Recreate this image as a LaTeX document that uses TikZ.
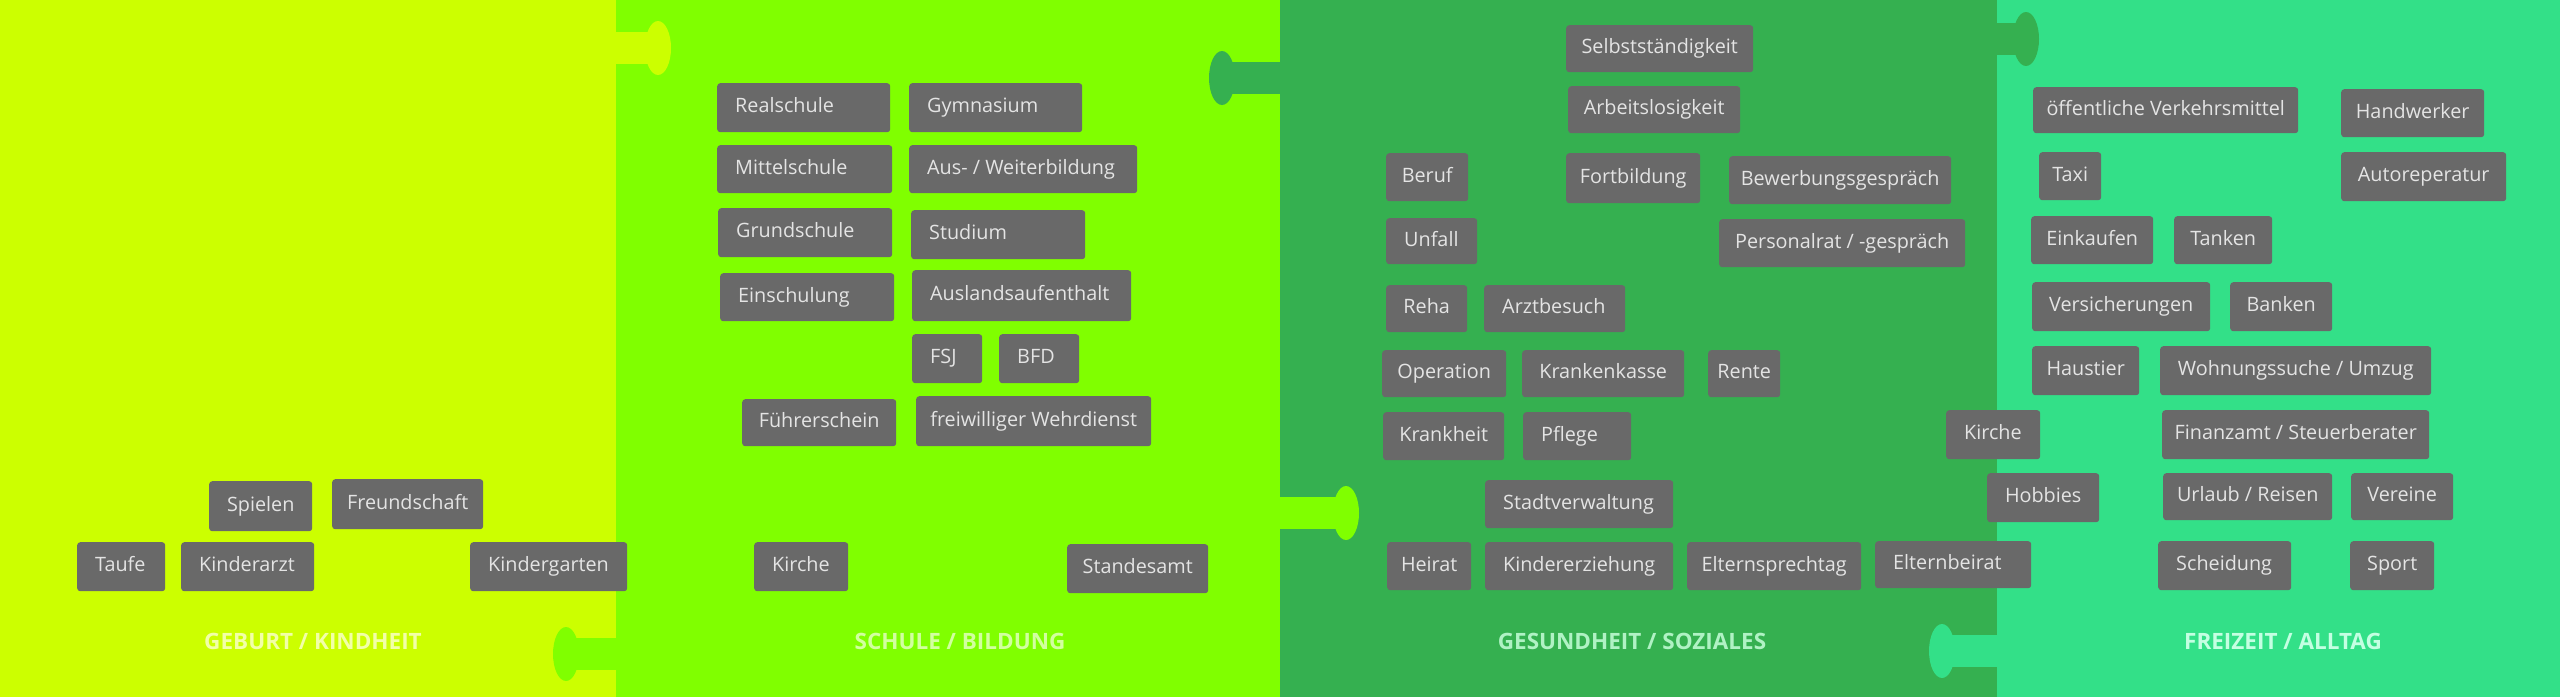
\documentclass[tikz,border=0pt]{standalone}
\usepackage{fontspec}
\setmainfont{Open Sans}
\definecolor{pA}{HTML}{CCFF00}
\definecolor{pB}{HTML}{80FF00}
\definecolor{pC}{HTML}{35B050}
\definecolor{pD}{HTML}{33E088}
\definecolor{boxfill}{HTML}{696969}
\definecolor{boxtext}{HTML}{E4E4E4}
\definecolor{tA}{HTML}{F2FFA8}
\definecolor{tB}{HTML}{D2FFA0}
\definecolor{tC}{HTML}{B0F2C4}
\definecolor{tD}{HTML}{C4FFE2}
\tikzset{
  tbox/.style={fill=boxfill, rounded corners=3pt, text=boxtext, inner xsep=18pt, inner ysep=0pt,
    font=\fontsize{19.8}{22}\selectfont, text height=14pt, text depth=4pt},
  ptitle/.style={font=\fontsize{22.5}{25}\selectfont\bfseries, inner sep=0pt},
}
\newcommand\bx[6]{%
  \node[tbox, minimum width={(#4-#2)*1pt}, minimum height={(#5-#3)*1pt}, anchor=north west] (#1) at (#2,#3)
    {\hbox to \dimexpr #4pt-#2pt-36pt\relax{\hskip 0pt minus 1fil #6\hskip 0pt plus 1fil minus 1fil}};}
\newcommand\knob[5]{% colour, stem x1, stem x2, ellipse cx, cy
  \fill[#1] (#2,#5-16) rectangle (#3,#5+16);
  \fill[#1] (#4,#5) ellipse [x radius=13, y radius=27];}
\begin{document}
\begin{tikzpicture}[x=1pt,y=-1pt]
\useasboundingbox (0,0) rectangle (2560,697);
% panels
\fill[pA] (0,0) rectangle (616,697);
\fill[pB] (616,0) rectangle (1280,697);
\fill[pC] (1280,0) rectangle (1997,697);
\fill[pD] (1997,0) rectangle (2560,697);
% puzzle knobs
\knob{pA}{610}{652}{658}{48}
\knob{pB}{572}{620}{566}{654}
\knob{pC}{1228}{1284}{1222}{78}
\knob{pB}{1276}{1340}{1346}{513}
\knob{pD}{1948}{2001}{1942}{651}
\knob{pC}{1993}{2020}{2026}{39}
% panel 1
\bx{spielen}{209}{481}{312}{531}{Spielen}
\bx{freund}{332}{479}{483}{529}{Freundschaft}
\bx{taufe}{77}{542}{165}{591}{Taufe}
\bx{kinderarzt}{181}{542}{314}{591}{Kinderarzt}
\bx{kindergarten}{470}{542}{627}{591}{Kindergarten}
\node[ptitle, text=tA] (t1) at (313,641) {GEBURT / KINDHEIT};
% panel 2
\bx{realschule}{717}{83}{890}{132}{Realschule}
\bx{gymnasium}{909}{83}{1082}{132}{Gymnasium}
\bx{mittelschule}{717}{145}{892}{193}{Mittelschule}
\bx{ausweiter}{909}{145}{1137}{193}{Aus- / Weiterbildung}
\bx{grundschule}{718}{208}{892}{257}{Grundschule}
\bx{studium}{911}{210}{1085}{259}{Studium}
\bx{einschulung}{720}{273}{894}{321}{Einschulung}
\bx{ausland}{912}{270}{1131}{321}{Auslandsaufenthalt}
\bx{fsj}{912}{334}{982}{383}{FSJ}
\bx{bfd}{999}{334}{1079}{383}{BFD}
\bx{fuehrer}{742}{399}{896}{446}{Führerschein}
\bx{wehr}{916}{396}{1151}{446}{freiwilliger Wehrdienst}
\bx{kircheB}{754}{542}{848}{591}{Kirche}
\bx{standesamt}{1067}{544}{1208}{593}{Standesamt}
\node[ptitle, text=tB] (t2) at (960,641) {SCHULE / BILDUNG};
% panel 3
\bx{selbst}{1566}{25}{1753}{72}{Selbstständigkeit}
\bx{arbeitslos}{1568}{86}{1740}{133}{Arbeitslosigkeit}
\bx{beruf}{1386}{153}{1468}{201}{Beruf}
\bx{fortbildung}{1566}{153}{1700}{203}{Fortbildung}
\bx{bewerbung}{1729}{156}{1951}{204}{Bewerbungsgespräch}
\bx{unfall}{1386}{218}{1477}{264}{Unfall}
\bx{personalrat}{1719}{219}{1965}{267}{Personalrat / -gespräch}
\bx{reha}{1386}{285}{1467}{332}{Reha}
\bx{arztbesuch}{1484}{285}{1625}{332}{Arztbesuch}
\bx{operation}{1382}{350}{1506}{397}{Operation}
\bx{krankenkasse}{1522}{350}{1684}{397}{Krankenkasse}
\bx{rente}{1708}{350}{1780}{397}{Rente}
\bx{krankheit}{1383}{412}{1504}{460}{Krankheit}
\bx{pflege}{1523}{412}{1631}{460}{Pflege}
\bx{stadtverw}{1485}{480}{1673}{528}{Stadtverwaltung}
\bx{heirat}{1387}{542}{1471}{590}{Heirat}
\bx{kindererz}{1485}{542}{1673}{590}{Kindererziehung}
\bx{elternsprech}{1687}{542}{1861}{590}{Elternsprechtag}
\bx{elternbeirat}{1875}{541}{2031}{588}{Elternbeirat}
\node[ptitle, text=tC] (t3) at (1632,641) {GESUNDHEIT / SOZIALES};
% panel 4
\bx{oeffentlich}{2033}{87}{2298}{133}{öffentliche Verkehrsmittel}
\bx{handwerker}{2341}{89}{2484}{137}{Handwerker}
\bx{taxi}{2039}{152}{2101}{200}{Taxi}
\bx{autorep}{2341}{152}{2506}{201}{Autoreperatur}
\bx{einkaufen}{2031}{216}{2153}{264}{Einkaufen}
\bx{tanken}{2174}{216}{2272}{264}{Tanken}
\bx{versich}{2032}{282}{2210}{331}{Versicherungen}
\bx{banken}{2230}{282}{2332}{331}{Banken}
\bx{haustier}{2032}{346}{2139}{395}{Haustier}
\bx{wohnung}{2160}{346}{2431}{395}{Wohnungssuche / Umzug}
\bx{kircheD}{1946}{410}{2040}{459}{Kirche}
\bx{finanzamt}{2162}{410}{2429}{459}{Finanzamt / Steuerberater}
\bx{hobbies}{1987}{473}{2099}{522}{Hobbies}
\bx{urlaub}{2163}{473}{2332}{520}{Urlaub / Reisen}
\bx{vereine}{2351}{473}{2453}{520}{Vereine}
\bx{scheidung}{2158}{541}{2291}{590}{Scheidung}
\bx{sport}{2350}{541}{2434}{590}{Sport}
\node[ptitle, text=tD] (t4) at (2283,641) {FREIZEIT / ALLTAG};
\end{tikzpicture}
\end{document}
